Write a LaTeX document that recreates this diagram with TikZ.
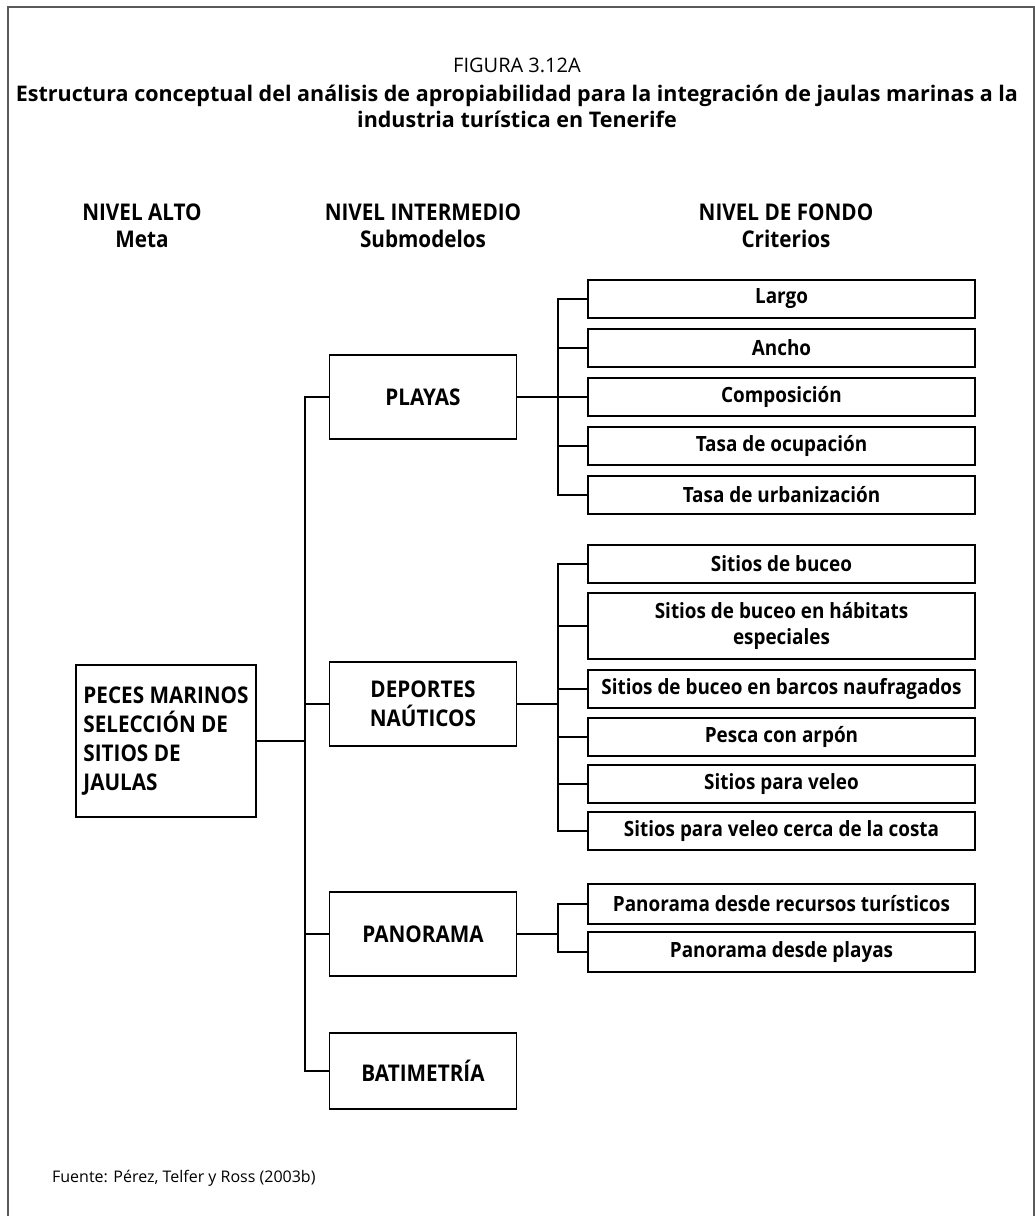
\documentclass[tikz,border=0pt]{standalone}
\usepackage{fontspec}
\setmainfont{Open Sans}
\newfontfamily\diagfont[FakeStretch=0.9]{Open Sans}

\tikzset{
  head/.style={align=center,font=\diagfont\bfseries\fontsize{23}{27}\selectfont},
  sub/.style={draw,line width=1.8pt,minimum width=187pt,minimum height=84pt,
    align=center,font=\diagfont\bfseries\fontsize{23}{29}\selectfont},
  crit/.style={draw,line width=1.8pt,minimum width=387pt,minimum height=38pt,
    inner sep=2pt,align=center,font=\diagfont\bfseries\fontsize{21}{26}\selectfont},
}

\begin{document}
\begin{tikzpicture}[x=1pt,y=-1pt,line width=1.6pt]
\useasboundingbox (0,0) rectangle (1035,1216);
\draw[line width=1.5pt,black!65] (8,1216) -- (8,7) -- (1034,7) -- (1034,1216);

% titulo
\node (fig) at (517,65) {\fontsize{20}{24}\selectfont FIGURA 3.12A};
\node[align=center,font=\bfseries\fontsize{21.5}{26}\selectfont] (title) at (517,106)
  {Estructura conceptual del análisis de apropiabilidad para la integración de jaulas marinas a la\\
   industria turística en Tenerife};

% niveles
\node[head] (alto) at (142,226) {NIVEL ALTO\\Meta};
\node[head] (inter) at (423,226) {NIVEL INTERMEDIO\\Submodelos};
\node[head] (fondo) at (786,226) {NIVEL DE FONDO\\Criterios};

% meta y submodelos
\node[sub,minimum width=180pt,minimum height=152pt,align=left] (peces) at (166,741)
  {PECES MARINOS\\SELECCIÓN DE\\SITIOS DE\\JAULAS};
\node[sub] (playas) at (423,397) {PLAYAS};
\node[sub] (deportes) at (423,704) {DEPORTES\\NAÚTICOS};
\node[sub] (panorama) at (423,934) {PANORAMA};
\node[sub,minimum height=76pt] (batim) at (423,1071) {BATIMETRÍA};

% criterios
\node[crit] (largo) at (781.5,299) {Largo};
\node[crit] (ancho) at (781.5,348) {Ancho};
\node[crit] (compos) at (781.5,397) {Composición};
\node[crit] (ocup) at (781.5,446) {Tasa de ocupación};
\node[crit] (urban) at (781.5,495) {Tasa de urbanización};

\node[crit] (buceo) at (781.5,564) {Sitios de buceo};
\node[crit,minimum height=66pt] (habit) at (781.5,626) {Sitios de buceo en hábitats\\especiales};
\node[crit] (barcos) at (781.5,689) {Sitios de buceo en barcos naufragados};
\node[crit] (pesca) at (781.5,737) {Pesca con arpón};
\node[crit] (veleo) at (781.5,784) {Sitios para veleo};
\node[crit] (costa) at (781.5,831) {Sitios para veleo cerca de la costa};

\node[crit,minimum height=40pt] (recur) at (781.5,904) {Panorama desde recursos turísticos};
\node[crit,minimum height=40pt] (playp) at (781.5,952) {Panorama desde playas};

\node[anchor=west,font=\fontsize{16}{19}\selectfont] (fuente) at (48,1178)
  {Fuente: Pérez, Telfer y Ross (2003b)};

% conectores
\coordinate (t) at (305,0);
\draw (peces.east) -- (peces.east -| t);
\draw (playas.west) -- (playas.west -| t) -- (batim.west -| t) -- (batim.west);
\draw (deportes.west) -- (deportes.west -| t);
\draw (panorama.west) -- (panorama.west -| t);

\coordinate (b) at (558,0);
\draw (playas.east) -- (playas.east -| b);
\draw (largo.west) -- (largo.west -| b) -- (urban.west -| b) -- (urban.west);
\foreach \n in {ancho,compos,ocup}
  \draw (\n.west) -- (\n.west -| b);

\draw (deportes.east) -- (deportes.east -| b);
\draw (buceo.west) -- (buceo.west -| b) -- (costa.west -| b) -- (costa.west);
\foreach \n in {habit,barcos,pesca,veleo}
  \draw (\n.west) -- (\n.west -| b);

\draw (panorama.east) -- (panorama.east -| b);
\draw (recur.west) -- (recur.west -| b) -- (playp.west -| b) -- (playp.west);
\end{tikzpicture}
\end{document}
